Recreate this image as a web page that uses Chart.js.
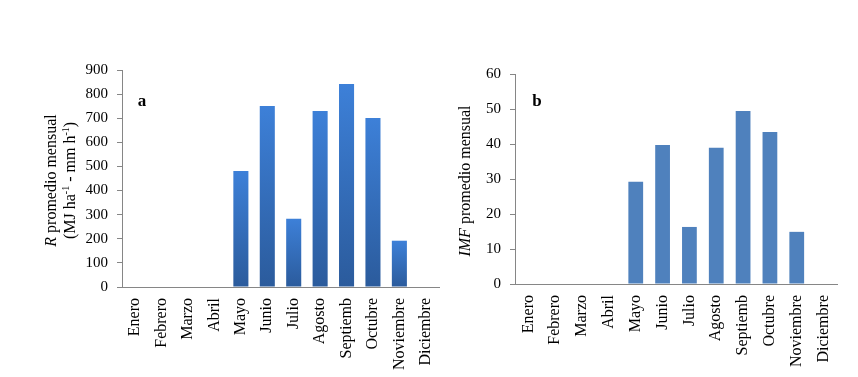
<!DOCTYPE html>
<html>
<head>
<meta charset="utf-8">
<script src="https://cdn.jsdelivr.net/npm/chart.js@4.4.0/dist/chart.umd.min.js"></script>
<style>
  body { margin: 0; background: #fff; }
  #wrap { position: relative; width: 858px; height: 377px; }
  .panel { position: absolute; top: 0; }
</style>
</head>
<body>
<div id="wrap">
  <canvas id="chartA" class="panel" style="left:0" width="445" height="377"></canvas>
  <canvas id="chartB" class="panel" style="left:445px" width="413" height="377"></canvas>
</div>
<script>
// data
const months = ['Enero', 'Febrero', 'Marzo', 'Abril', 'Mayo', 'Junio', 'Julio', 'Agosto', 'Septiemb', 'Octubre', 'Noviembre', 'Diciembre'];
const erosividad = [null, null, null, null, 481, 751, 283, 730, 842, 701, 192, null];
const imf = [null, null, null, null, 29.2, 39.7, 16.3, 38.9, 49.4, 43.4, 14.9, null];
const ticksA = [0, 100, 200, 300, 400, 500, 600, 700, 800, 900];
const ticksB = [0, 10, 20, 30, 40, 50, 60];

const serif = '"Liberation Serif", "Times New Roman", serif';
const axisGray = '#868686';

function partFont(p) {
    const size = p.sup ? 10 : 16;
    return (p.italic ? 'italic ' : '') + size + 'px ' + serif;
}

// draws the panel letter and the rotated y titles (mixed italic / superscript)
const panelText = {
    id: 'panelText',
    afterDraw(chart, args, opts) {
        const ctx = chart.ctx;
        const area = chart.chartArea;
        ctx.save();
        ctx.fillStyle = '#000';
        ctx.font = 'bold 17px ' + serif;
        ctx.textAlign = 'center';
        ctx.textBaseline = 'middle';
        ctx.fillText(opts.letter, opts.letterX, opts.letterY);

        const cy = (area.top + area.bottom) / 2 + 2;
        opts.lines.forEach((parts, i) => {
            ctx.save();
            ctx.translate(opts.titleX[i], cy);
            ctx.rotate(-Math.PI / 2);
            let w = 0;
            parts.forEach(p => { ctx.font = partFont(p); w += ctx.measureText(p.t).width; });
            let x = -w / 2;
            ctx.textAlign = 'left';
            ctx.textBaseline = 'middle';
            parts.forEach(p => {
                ctx.font = partFont(p);
                ctx.fillText(p.t, x, p.sup ? -5 : 0);
                x += ctx.measureText(p.t).width;
            });
            ctx.restore();
        });
        ctx.restore();
    }
};

function makeOptions(tickValues, yWidth, xHeight, padTop, padRight, text) {
    return {
        responsive: false,
        animation: false,
        layout: { padding: { top: padTop, right: padRight, left: 0, bottom: 0 } },
        plugins: {
            legend: { display: false },
            tooltip: { enabled: false },
            panelText: text
        },
        scales: {
            x: {
                grid: { display: false, drawTicks: false },
                border: { display: true, color: axisGray, width: 1 },
                ticks: {
                    color: '#000',
                    font: { family: serif, size: 16 },
                    minRotation: 90,
                    maxRotation: 90,
                    autoSkip: false,
                    padding: 11
                },
                afterFit: s => {
                    s.height = xHeight;
                    s.paddingLeft = 0;
                    s.paddingRight = 0;
                }
            },
            y: {
                min: tickValues[0],
                max: tickValues[tickValues.length - 1],
                afterBuildTicks: s => { s.ticks = tickValues.map(v => ({ value: v })); },
                grid: { display: true, drawOnChartArea: false, drawTicks: true, tickLength: 5, color: axisGray },
                border: { display: true, color: axisGray, width: 1 },
                ticks: {
                    color: '#000',
                    font: { family: serif, size: 15 },
                    padding: 9
                },
                afterFit: s => { s.width = yWidth; }
            }
        }
    };
}

function gradientFill(c) {
    const chart = c.chart;
    const y = chart.scales.y;
    if (!y || c.raw == null) return '#3a78c8';
    const top = y.getPixelForValue(c.raw);
    const bottom = y.getPixelForValue(0);
    const g = chart.ctx.createLinearGradient(0, top, 0, bottom);
    g.addColorStop(0, '#3d80d8');
    g.addColorStop(1, '#2b5b9c');
    return g;
}

new Chart(document.getElementById('chartA'), {
    type: 'bar',
    data: {
        labels: months,
        datasets: [{
            data: erosividad,
            backgroundColor: gradientFill,
            barPercentage: 0.57,
            categoryPercentage: 1
        }]
    },
    options: makeOptions(ticksA, 122, 90, 70, 6, {
        letter: 'a', letterX: 142, letterY: 102,
        titleX: [52, 71],
        lines: [
            [{ t: 'R', italic: true }, { t: ' promedio mensual' }],
            [{ t: '(MJ ha' }, { t: '-1', sup: true }, { t: ' - mm h' }, { t: '-1', sup: true }, { t: ')' }]
        ]
    }),
    plugins: [panelText]
});

new Chart(document.getElementById('chartB'), {
    type: 'bar',
    data: {
        labels: months,
        datasets: [{
            data: imf,
            backgroundColor: '#4f81bd',
            barPercentage: 0.55,
            categoryPercentage: 1
        }]
    },
    options: makeOptions(ticksB, 70, 93, 74, 21, {
        letter: 'b', letterX: 92, letterY: 102,
        titleX: [21],
        lines: [
            [{ t: 'IMF', italic: true }, { t: ' promedio mensual' }]
        ]
    }),
    plugins: [panelText]
});
</script>
</body>
</html>
